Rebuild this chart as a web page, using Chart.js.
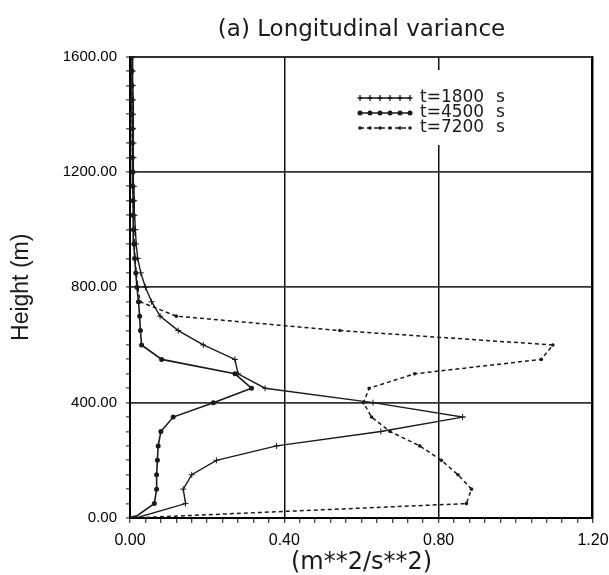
<!DOCTYPE html>
<html>
<head>
<meta charset="utf-8">
<script src="https://cdn.jsdelivr.net/npm/chart.js@4"></script>
<style>
  html, body { margin: 0; background: #fff; overflow: hidden; }
  canvas { display: block; }
</style>
</head>
<body>
<canvas id="chartVariance" width="609" height="575"></canvas>
<script>
// model levels (m)
var alturas = [0, 50, 100, 150, 200, 250, 300, 350, 400, 450, 500, 550, 600, 650, 700, 750, 800,
               850, 900, 950, 1000, 1050, 1100, 1150, 1200, 1250, 1300, 1350, 1400, 1450, 1500, 1550, 1600];

// longitudinal variance (m**2/s**2) at each level
var var1800 = [0.015, 0.144, 0.138, 0.160, 0.224, 0.380, 0.650, 0.862, 0.630, 0.350, 0.280, 0.272, 0.190,
               0.125, 0.078, 0.056, 0.040, 0.028, 0.020, 0.016, 0.014, 0.012, 0.011, 0.010, 0.010,
               0.009, 0.009, 0.008, 0.008, 0.008, 0.007, 0.007, 0.007];
var var4500 = [0.010, 0.063, 0.069, 0.069, 0.071, 0.073, 0.080, 0.112, 0.216, 0.315, 0.272, 0.082, 0.030,
               0.027, 0.025, 0.022, 0.018, 0.015, 0.012, 0.010, 0.009, 0.008, 0.008, 0.007, 0.007,
               0.006, 0.006, 0.006, 0.005, 0.005, 0.005, 0.005, 0.005];
var var7200 = [0.005, 0.872, 0.885, 0.850, 0.807, 0.751, 0.674, 0.626, 0.605, 0.620, 0.738, 1.066, 1.096,
               0.544, 0.120, 0.026, 0.020, 0.016, 0.013, 0.011, 0.010, 0.009, 0.008, 0.008, 0.007,
               0.007, 0.006, 0.006, 0.006, 0.005, 0.005, 0.005, 0.005];

var tempos = [1800, 4500, 7200];

var xMax = 1.2, xStep = 0.04, xMajor = 0.4;
var yMax = 1600, yStep = 50, yMajor = 400;

var tinta = '#1a1a1a';
var fonteTitulo = '"DejaVu Sans", sans-serif';

function pontos(valores) {
    return valores.map(function (v, i) { return { x: v, y: alturas[i] }; });
}

function ehMajor(v, passo) {
    var r = v / passo;
    return Math.abs(r - Math.round(r)) < 1e-6;
}

// right edge of the frame, then the key inside the plot (upper right) on a white patch
var legendaInterna = {
    id: 'legendaInterna',
    afterDraw: function (chart) {
        var ctx = chart.ctx;
        var a = chart.chartArea;
        var x0 = 360, x1 = 410, y0 = 98, dy = 15;
        ctx.save();
        ctx.fillStyle = '#000';
        ctx.fillRect(Math.round(a.right) - 2, Math.round(a.top) - 1, 2, Math.round(a.bottom - a.top) + 2);

        ctx.fillStyle = '#fff';
        ctx.fillRect(354, 70, 160, 75);
        chart.data.datasets.forEach(function (ds, i) {
            var y = y0 + i * dy;
            ctx.strokeStyle = tinta;
            ctx.lineWidth = 1.3;
            ctx.setLineDash(ds.borderDash || []);
            ctx.beginPath();
            ctx.moveTo(x0, y);
            ctx.lineTo(x1, y);
            ctx.stroke();
            ctx.setLineDash([]);
            var n = 6;
            for (var k = 0; k < n; k++) {
                var px = x0 + k * (x1 - x0) / (n - 1);
                if (ds.pointStyle === 'cross') {
                    ctx.beginPath();
                    ctx.moveTo(px - 2.5, y); ctx.lineTo(px + 2.5, y);
                    ctx.moveTo(px, y - 3); ctx.lineTo(px, y + 3);
                    ctx.stroke();
                } else {
                    ctx.beginPath();
                    ctx.arc(px, y, ds.pointRadius, 0, Math.PI * 2);
                    ctx.fillStyle = tinta;
                    ctx.fill();
                }
            }
            ctx.fillStyle = tinta;
            ctx.font = '17px ' + fonteTitulo;
            ctx.textBaseline = 'middle';
            ctx.textAlign = 'left';
            ctx.fillText('t=' + tempos[i], 420, y);
            ctx.fillText('s', 496, y);
        });
        ctx.restore();
    }
};

Chart.defaults.font.family = '"Liberation Sans", Arial, sans-serif';
Chart.defaults.color = tinta;

new Chart(document.getElementById('chartVariance'), {
    type: 'scatter',
    data: {
        datasets: [{
            label: 't=' + tempos[0] + ' s',
            data: pontos(var1800),
            showLine: true,
            borderColor: tinta,
            backgroundColor: tinta,
            borderWidth: 1.4,
            pointStyle: 'cross',
            pointRadius: 3,
            pointBorderWidth: 1
        }, {
            label: 't=' + tempos[1] + ' s',
            data: pontos(var4500),
            showLine: true,
            borderColor: tinta,
            backgroundColor: tinta,
            borderWidth: 1.6,
            pointStyle: 'circle',
            pointRadius: 2.5,
            pointBorderWidth: 0
        }, {
            label: 't=' + tempos[2] + ' s',
            data: pontos(var7200),
            showLine: true,
            borderColor: tinta,
            backgroundColor: tinta,
            borderWidth: 1.5,
            borderDash: [4, 3],
            pointStyle: 'circle',
            pointRadius: 1.8,
            pointBorderWidth: 0
        }]
    },
    options: {
        responsive: false,
        animation: false,
        layout: { padding: { right: 16 } },
        plugins: {
            legend: { display: false },
            tooltip: { enabled: false },
            title: {
                display: true,
                text: '(a) Longitudinal variance',
                fullSize: false,
                color: tinta,
                font: { family: fonteTitulo, size: 23, weight: 'normal' },
                padding: { top: 16, bottom: 13 }
            }
        },
        scales: {
            x: {
                type: 'linear',
                min: 0,
                max: xMax,
                afterFit: function (scale) {
                    scale.height = 57;
                    scale.paddingLeft = 0;
                    scale.paddingRight = 0;
                },
                border: { display: true, color: '#000', width: 2 },
                grid: {
                    color: function (c) {
                        return ehMajor(c.tick.value, xMajor) ? '#111' : 'rgba(0,0,0,0)';
                    },
                    lineWidth: 1.5,
                    tickColor: '#111',
                    tickWidth: 1,
                    tickLength: 5
                },
                ticks: {
                    stepSize: xStep,
                    autoSkip: false,
                    maxRotation: 0,
                    padding: 8,
                    color: '#000',
                    font: { size: 16 },
                    callback: function (v) { return ehMajor(v, xMajor) ? v.toFixed(2) : ''; }
                },
                title: {
                    display: true,
                    text: '(m**2/s**2)',
                    font: { family: fonteTitulo, size: 24, lineHeight: 1 },
                    padding: { top: 0, bottom: 0 }
                }
            },
            y: {
                type: 'linear',
                min: 0,
                max: yMax,
                afterFit: function (scale) { scale.width = 130; },
                border: { display: true, color: '#000', width: 2 },
                grid: {
                    color: function (c) {
                        return ehMajor(c.tick.value, yMajor) ? '#333' : 'rgba(0,0,0,0)';
                    },
                    lineWidth: function (c) {
                        return c.tick.value === yMax ? 2 : 1.8;
                    },
                    tickColor: '#111',
                    tickWidth: 1,
                    tickLength: 4
                },
                ticks: {
                    stepSize: yStep,
                    autoSkip: false,
                    padding: 9,
                    color: '#000',
                    font: { size: 15 },
                    callback: function (v) { return ehMajor(v, yMajor) ? v.toFixed(2) : ''; }
                },
                title: {
                    display: true,
                    text: 'Height (m)',
                    font: { size: 23, lineHeight: 1 },
                    padding: { top: 10, bottom: 0 }
                }
            }
        }
    },
    plugins: [legendaInterna]
});
</script>
</body>
</html>
